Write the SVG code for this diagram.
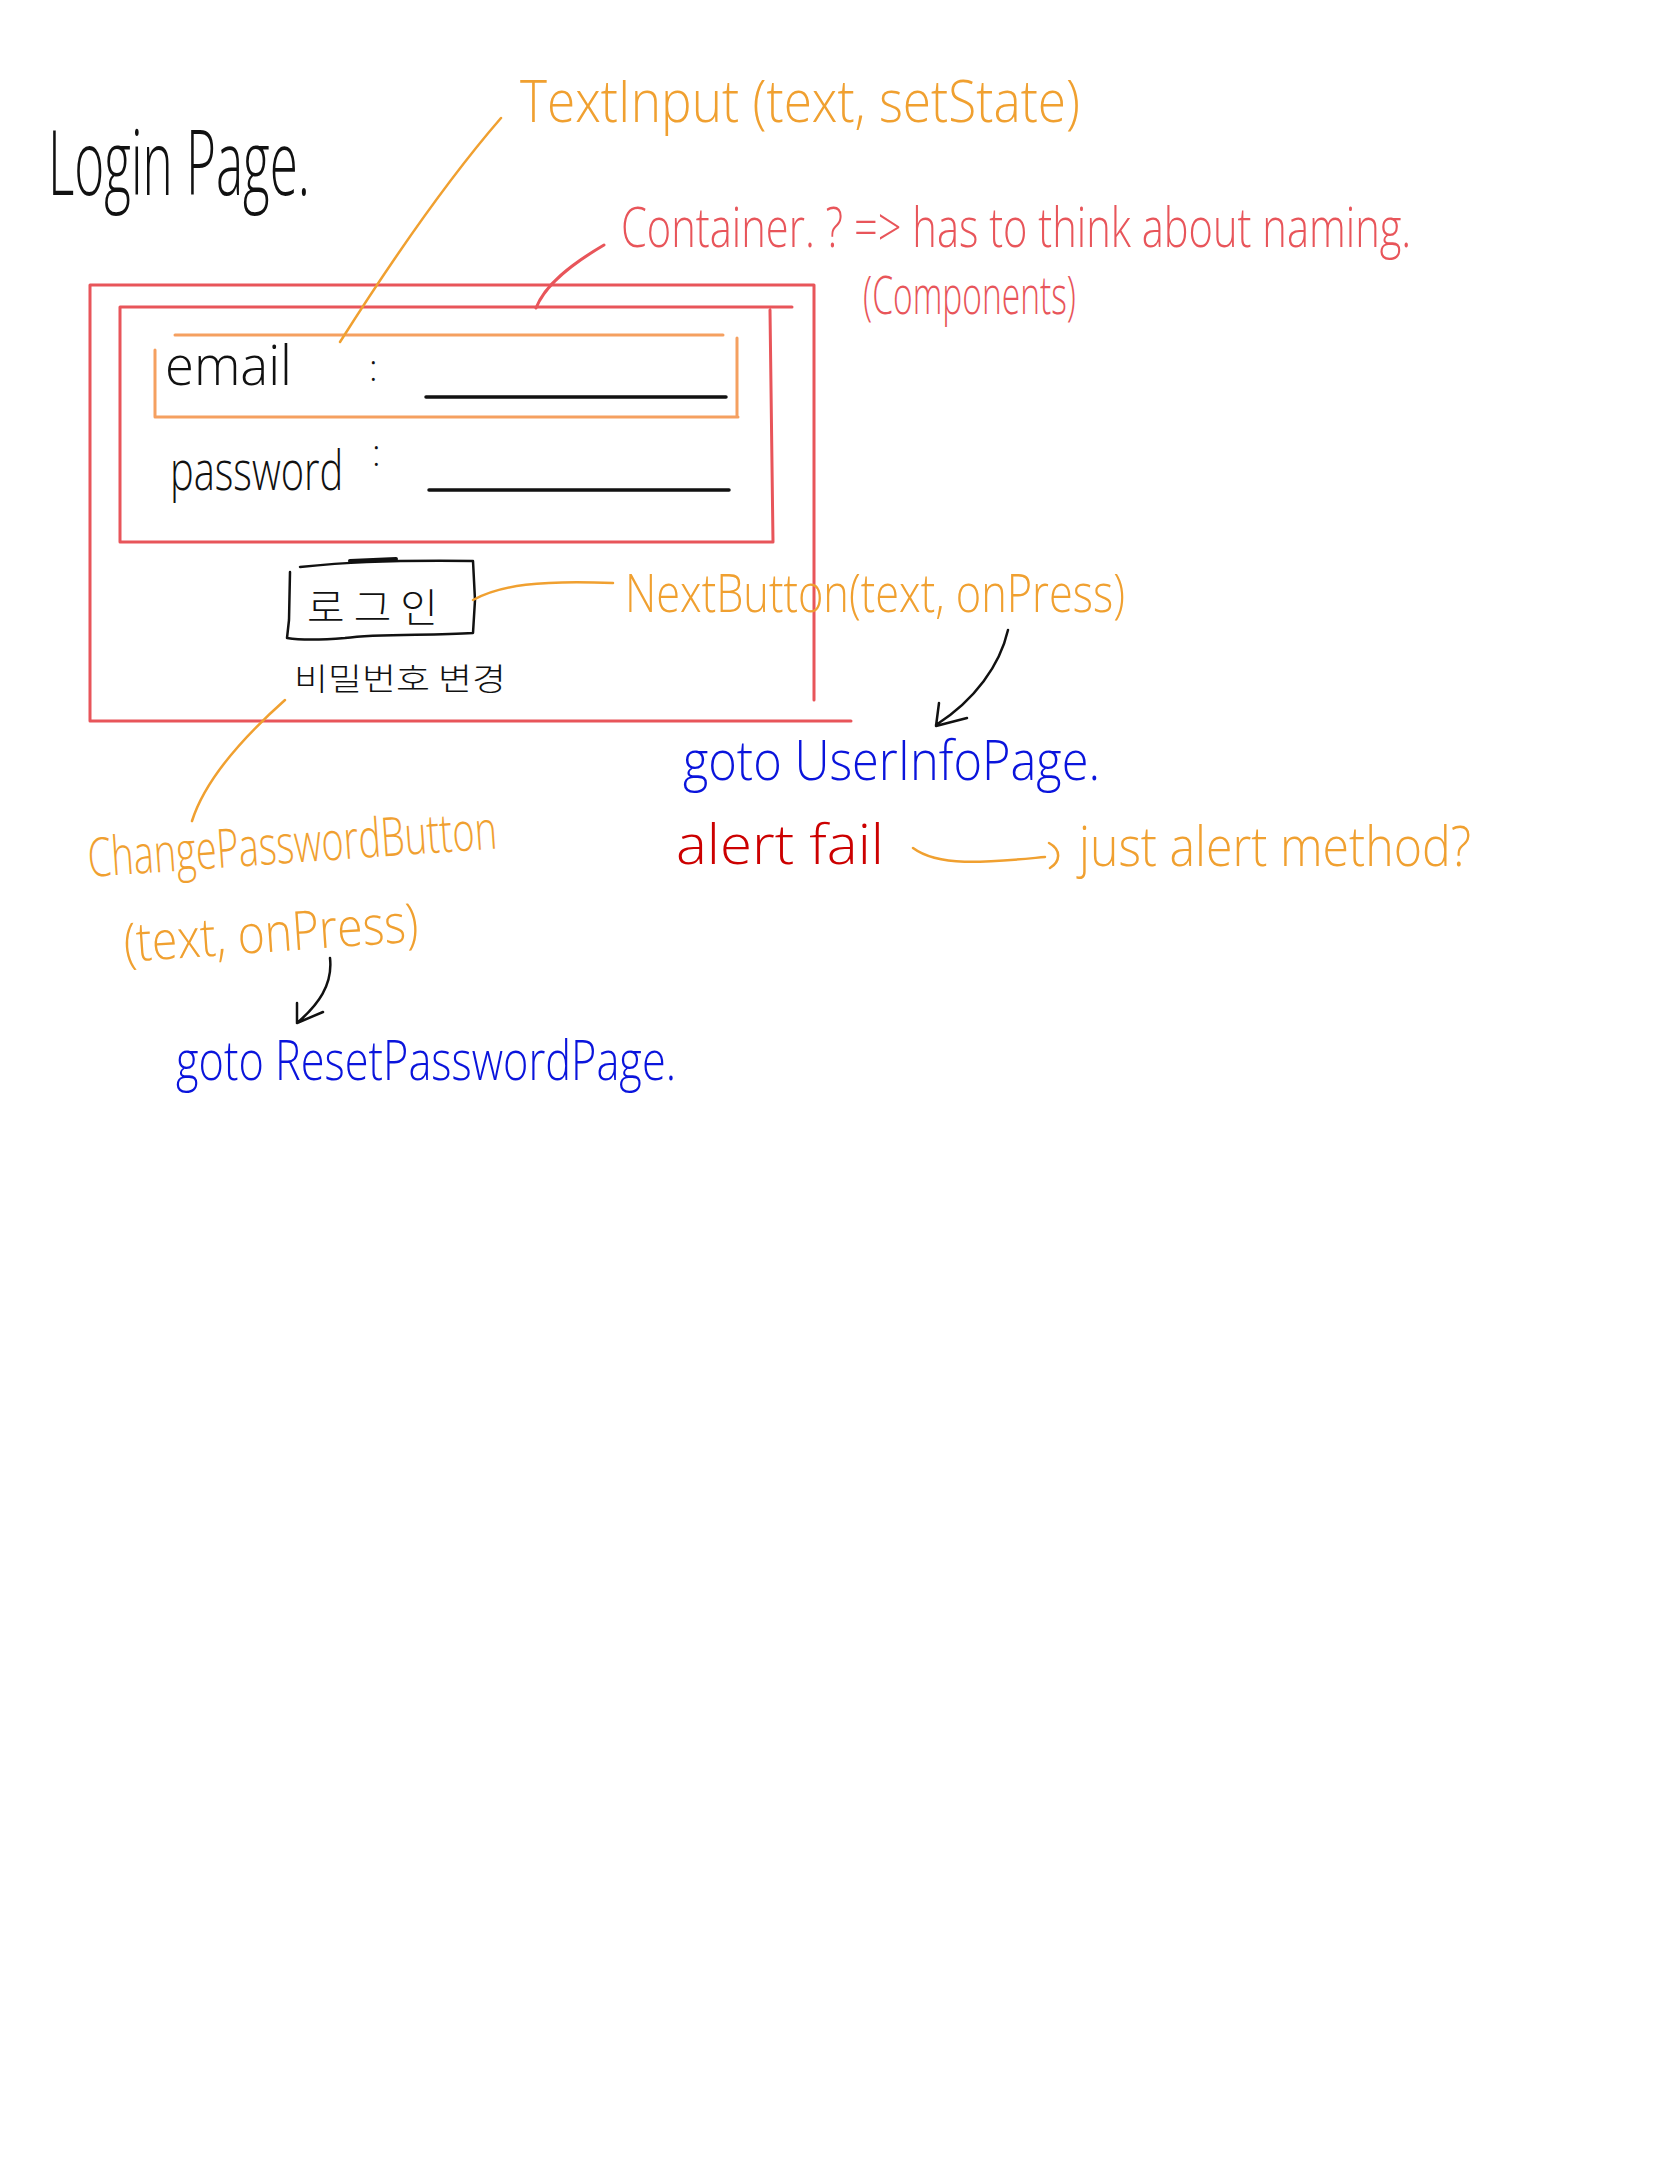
<svg xmlns="http://www.w3.org/2000/svg" width="1668" height="2157" viewBox="0 0 1668 2157">
<style>
text{font-family:"Open Sans","Liberation Sans","Noto Sans CJK KR",sans-serif;font-weight:300}
.k{fill:#111}
.o{fill:#f0a030}
.r{fill:#e8555a}
.dr{fill:#cc0000}
.b{fill:#0a14dc}
.ko{font-family:"Noto Sans CJK KR",sans-serif;font-weight:300;fill:#111}
.ln{fill:none;stroke-linecap:round;stroke-linejoin:round}
.red{stroke:#e8555a;stroke-width:3}
.org{stroke:#f0a030;stroke-width:2.5}
.peach{stroke:#f5a060;stroke-width:3}
.blk{stroke:#111;stroke-width:2.5}
.ul{stroke:#111;stroke-width:3.5}
</style>
<rect width="1668" height="2157" fill="#fff"/>

<g id="title">
<text class="k" x="48" y="195" font-size="90" textLength="262" lengthAdjust="spacingAndGlyphs">Login Page.</text>
</g>

<g id="outer-container">
<path class="ln red" d="M90,285 L814,285 M90,285 L90,721 M814,285 L814,700 M90,721 L851,721"/>
</g>

<g id="inner-container">
<path class="ln red" d="M120,307 L792,307 M120,307 L120,542 L773,542 M770,310 L773,542"/>
</g>

<g id="text-input-box">
<path class="ln peach" d="M175,335 L723,335 M155,350 L155,417 L738,417 M737,338 L737,417"/>
</g>

<g id="email-field">
<text class="k" x="165" y="385" font-size="56" textLength="127" lengthAdjust="spacingAndGlyphs">email</text>
<text class="k" x="369" y="381" font-size="36">:</text>
<path class="ln ul" d="M426,397 L726,397"/>
</g>

<g id="password-field">
<text class="k" transform="translate(170,490) scale(0.75,1)" x="0" y="0" font-size="56" textLength="231" lengthAdjust="spacingAndGlyphs">password</text>
<text class="k" x="372" y="466" font-size="36">:</text>
<path class="ln ul" d="M429,490 L729,490"/>
</g>

<g id="login-button">
<path class="ln blk" d="M300,567 C 340,563 380,560 473,561 L475,600 L473,633 C 430,636 380,633 345,638 C 320,640 300,640 287,638 L289,620 L290,572"/>
<path class="ln" stroke="#111" stroke-width="4" d="M350,561 L396,559"/>
<text class="ko" x="307" y="622" font-size="40" textLength="131" lengthAdjust="spacingAndGlyphs">로 그 인</text>
</g>

<g id="change-password-link">
<text class="ko" x="294" y="690" font-size="31" textLength="212" lengthAdjust="spacingAndGlyphs">비밀번호 변경</text>
</g>

<g id="note-textinput">
<text class="o" x="520" y="122" font-size="58" textLength="560" lengthAdjust="spacingAndGlyphs">TextInput (text, setState)</text>
</g>

<g id="note-container">
<text class="r" transform="translate(621,247) scale(0.7,1)" x="0" y="0" font-size="56" textLength="1129" lengthAdjust="spacingAndGlyphs">Container. ? =&gt; has to think about naming.</text>
<text class="r" x="863" y="314" font-size="54" textLength="213" lengthAdjust="spacingAndGlyphs">(Components)</text>
</g>

<g id="note-nextbutton">
<text class="o" x="625" y="612" font-size="54" textLength="500" lengthAdjust="spacingAndGlyphs">NextButton(text, onPress)</text>
</g>

<g id="goto-userinfo">
<text class="b" x="683" y="780" font-size="56" textLength="417" lengthAdjust="spacingAndGlyphs">goto UserInfoPage.</text>
</g>

<g id="alert-fail">
<text class="dr" x="676" y="864" font-size="56" textLength="208" lengthAdjust="spacingAndGlyphs">alert fail</text>
</g>

<g id="note-alert">
<text class="o" x="1079" y="866" font-size="56" textLength="392" lengthAdjust="spacingAndGlyphs">just alert method?</text>
</g>

<g id="note-changepw">
<text class="o" x="89" y="877" font-size="54" textLength="410" lengthAdjust="spacingAndGlyphs" transform="rotate(-4 89 877)">ChangePasswordButton</text>
<text class="o" x="125" y="962" font-size="54" textLength="295" lengthAdjust="spacingAndGlyphs" transform="rotate(-4 125 962)">(text, onPress)</text>
</g>

<g id="goto-resetpw">
<text class="b" x="176" y="1080" font-size="56" textLength="500" lengthAdjust="spacingAndGlyphs">goto ResetPasswordPage.</text>
</g>

<g id="connectors">
<path class="ln org" d="M501,118 Q 430,200 340,342"/>
<path class="ln red" d="M604,245 C 570,265 545,285 536,308"/>
<path class="ln org" d="M473,600 C 500,585 540,580 613,583"/>
<path class="ln org" d="M285,700 C 240,740 205,780 192,821"/>
<path class="ln blk" d="M1008,630 C 1000,665 975,700 936,725 M939,703 L936,726 L967,718"/>
<path class="ln blk" d="M330,958 C 333,985 318,1005 297,1023 M297,1003 L297,1023 L323,1012"/>
<path class="ln org" d="M913,848 C 940,868 990,862 1045,857 M1049,843 C 1062,850 1060,862 1050,868"/>
</g>
</svg>
